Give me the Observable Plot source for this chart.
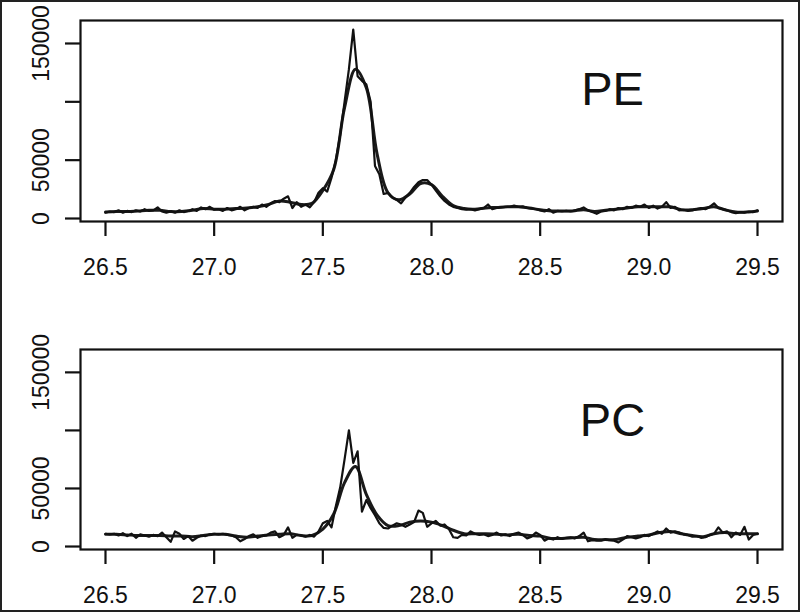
<!DOCTYPE html>
<html><head><meta charset="utf-8">
<script src="https://cdn.jsdelivr.net/npm/d3@7"></script>
<script src="https://cdn.jsdelivr.net/npm/@observablehq/plot@0.6"></script>
<style>
html,body{margin:0;padding:0;background:#fff;}
#wrap{position:relative;width:800px;height:612px;overflow:hidden;font-family:"Liberation Sans",Arial,sans-serif;}
#wrap svg{display:block;}
#border{position:absolute;left:0;top:0;width:800px;height:612px;box-sizing:border-box;border:2px solid #222;pointer-events:none;}
</style></head><body><div id="wrap"><div id="border"></div></div>
<script>
// Retention time sampling (minutes)
const tStart = 26.5;
const rawStep = 0.02;
const smoothStep = 0.05;

// Tick values and labels
const xTicks = [26.5, 27.0, 27.5, 28.0, 28.5, 29.0, 29.5];
const yTicks = [0, 50000, 100000, 150000];
const yTickLabels = ["0", "50000", "", "150000"];

const panelLabels = ["PE", "PC"];

// Intensities in thousands
const peRaw = [
  5, 6, 5.5, 7, 5, 6.5, 5.5, 7, 6, 8,
  6.5, 7, 9.5, 6, 5, 6, 5, 7, 5.5, 6.5,
  8, 6.5, 9.5, 8, 10, 7.5, 8, 6.5, 9, 7,
  8, 10, 7, 9, 10, 9, 12, 10, 13, 15,
  14, 17, 19, 9, 14, 10, 12, 9.5, 14, 22,
  26, 23, 35, 50, 72, 100, 128, 162, 122, 118,
  115, 100, 45, 38, 21, 22, 18, 16, 13, 18,
  22, 27, 31, 33, 33, 29, 24, 19, 15, 12,
  10, 9, 8, 7.5, 8, 7, 8, 9, 12, 8,
  9, 9.5, 10, 10, 11, 10, 10.5, 9, 8.5, 8,
  7, 6, 8, 5, 6.5, 6, 6.5, 6, 7, 8,
  9.5, 7, 5.5, 4, 6, 6.5, 8, 7, 9, 8,
  10, 9, 11, 10, 12, 9, 11, 8.5, 10, 14,
  9, 10, 7, 7.5, 6.5, 7, 8, 9, 8, 10,
  13, 9, 8, 7, 5.5, 4.5, 5.5, 5, 6, 5.5,
  7
];
const peSmooth = [
  5.5, 6, 6, 6.5, 7, 7, 6, 6, 7, 8.5,
  8, 8, 8.5, 9, 10, 12, 15, 14, 12, 13,
  24, 42, 95, 128, 112, 55, 22, 16, 21, 30,
  29, 19, 11, 8.5, 8, 9, 9.5, 10, 10, 9,
  7.5, 6.5, 6.5, 6.5, 7.5, 6, 7, 8, 9, 10,
  10, 10, 10, 7.5, 7.5, 8.5, 10, 7.5, 5.5, 5.5,
  6.5
];
const pcRaw = [
  11, 10.5, 11, 9.5, 11.5, 9, 11, 7.5, 10.5, 9.5,
  8.5, 10, 9, 12, 8, 4, 13, 11, 6.5, 9,
  5, 7.5, 9.5, 9, 10.5, 11, 10.5, 11, 10, 9.5,
  8, 4.5, 6.5, 9, 10.5, 7.5, 9, 9.5, 12, 13,
  8, 10, 16.5, 7.5, 10, 9.5, 8.5, 10, 8.5, 13,
  20, 22, 16.5, 35, 51, 75, 100, 72, 82, 30,
  40, 33, 27, 20, 16, 15.5, 18, 20, 19, 17,
  19, 21, 31, 29, 17, 20, 22, 18, 19, 15,
  8, 7.5, 10, 9.5, 13, 11, 10, 10.5, 9, 10,
  12, 9.5, 10.5, 9, 11, 12, 10, 7, 8.5, 12,
  10, 5, 7, 6, 8, 6.5, 7.5, 8, 7, 9,
  12, 4.5, 5.5, 5, 5, 6, 5.5, 5, 3.5, 6,
  9, 8, 7, 8, 10, 9, 11, 13, 11, 15.5,
  12, 13, 12, 10.5, 10, 8.5, 9, 7.5, 8, 10,
  11, 16.5, 12, 13, 8, 12, 10, 17, 6, 10,
  11
];
const pcSmooth = [
  10.5, 10.5, 10, 9.5, 9.5, 9.5, 9, 9, 8.5, 9.5,
  10.5, 10.5, 9, 8, 9, 10, 10.5, 11, 9.5, 9.5,
  15, 28, 55, 69, 45, 27, 18, 18, 21, 22,
  21, 18, 14, 11, 11, 11, 10.5, 10, 10.5, 9.5,
  9, 7, 7, 7.5, 8, 6, 6, 6, 8, 9,
  10, 12, 13, 11, 9.5, 8.5, 11, 12, 11, 11,
  11
];

function toRows(values, step) {
  return values.map((v, i) => ({t: tStart + i * step, v: v * 1000}));
}

function panel(raw, smooth, label, height, marginTop, marginBottom, labelDy) {
  return Plot.plot({
    width: 800, height, marginLeft: 80, marginRight: 18, marginTop, marginBottom,
    style: {fontFamily: "'Liberation Sans', Arial, sans-serif", fontSize: "23px", color: "#111", background: "white", overflow: "visible"},
    x: {domain: [26.385, 29.615], label: null},
    y: {domain: [-2570, 169700], label: null},
    marks: [
      Plot.frame({stroke: "#111", strokeWidth: 2.2}),
      Plot.axisX({ticks: xTicks, tickFormat: d3.format(".1f"), tickSize: 15, tickPadding: 22, strokeWidth: 2.2, fontSize: 23, label: null}),
      Plot.axisY({ticks: yTicks, tickFormat: (d) => yTickLabels[yTicks.indexOf(d)], tickSize: 15, tickPadding: 17, tickRotate: -90, strokeWidth: 2.2, fontSize: 23, label: null}),
      Plot.line(toRows(smooth, smoothStep), {x: "t", y: "v", stroke: "#1a1a1a", strokeWidth: 3, curve: "catmull-rom"}),
      Plot.line(toRows(raw, rawStep), {x: "t", y: "v", stroke: "#111", strokeWidth: 2.2, strokeLinejoin: "round"}),
      Plot.text([label], {frameAnchor: "top", dx: 181, dy: labelDy, fontSize: 47, lineAnchor: "middle", fill: "#111"})
    ]
  });
}

const wrap = document.getElementById("wrap");
const border = document.getElementById("border");
wrap.insertBefore(panel(peRaw, peSmooth, panelLabels[0], 300, 20, 79, 69), border);
wrap.insertBefore(panel(pcRaw, pcSmooth, panelLabels[1], 312, 49, 63, 71), border);
</script>
</body></html>
